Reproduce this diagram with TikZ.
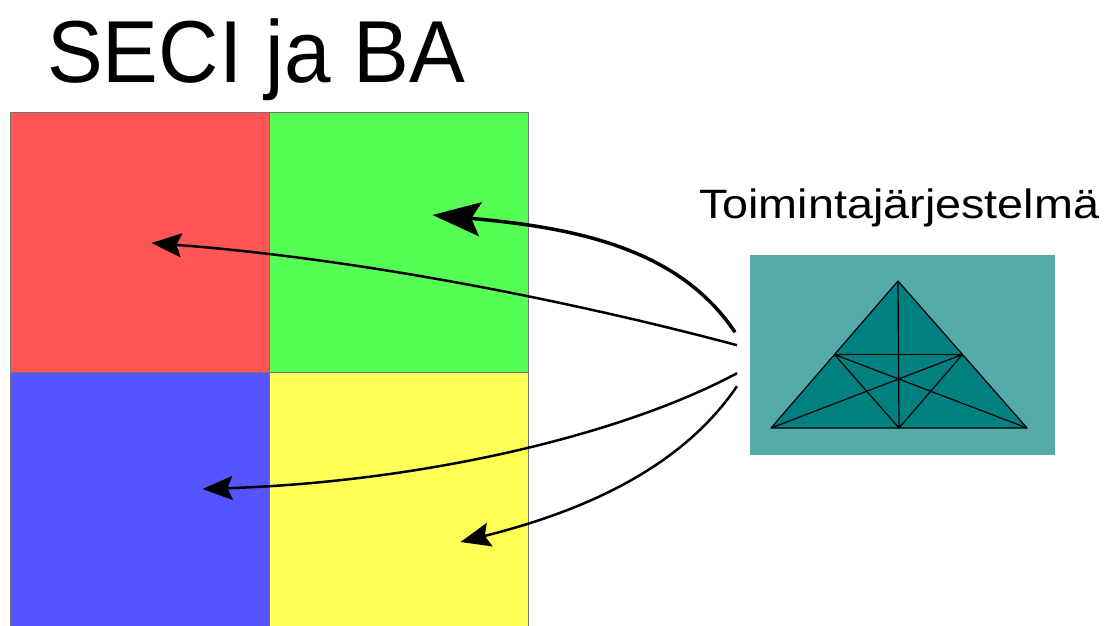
\documentclass[tikz,border=0pt]{standalone}
\usepackage{fontspec}
\setmainfont{Liberation Sans}
\usetikzlibrary{arrows.meta,positioning,calc}
\definecolor{SeciRed}{HTML}{FF5555}
\definecolor{SeciGreen}{HTML}{55FF55}
\definecolor{SeciBlue}{HTML}{5555FF}
\definecolor{SeciYellow}{HTML}{FFFF55}
\definecolor{SysTeal}{HTML}{55AAAA}
\definecolor{SysDark}{HTML}{008080}
\tikzset{
  quad/.style={draw=black!55,line width=1pt,minimum width=259pt,minimum height=260pt,
    inner sep=0pt,outer sep=0pt},
  link/.style={-{Stealth[length=30pt,width=24pt,inset=5pt]},line width=2.5pt},
  biglink/.style={-{Stealth[length=48pt,width=34pt,inset=9pt]},line width=3.5pt},
  edge/.style={line width=1.2pt,line join=round}
}

\begin{document}
\begin{tikzpicture}[x=1pt,y=-1pt]
  \clip (0,0) rectangle (1106,626);
  \fill[white] (0,0) rectangle (1106,626);
  % the four SECI fields
  \node[quad,fill=SeciRed,anchor=north west] (soc) at (10,112) {};
  \node[quad,fill=SeciGreen,right=0pt of soc] (ext) {};
  \node[quad,fill=SeciBlue,below=0pt of soc] (comb) {};
  \node[quad,fill=SeciYellow,right=0pt of comb] (intl) {};
  \node[anchor=base west,inner sep=0pt,font=\fontsize{88}{88}\selectfont] (title) at (47,82) {\scalebox{0.95}[1]{SECI ja BA}};
  % activity system
  \node[fill=SysTeal,minimum width=305pt,minimum height=200pt,inner sep=0pt,anchor=north west] (sys) at (750,255) {};
  \node[anchor=base west,inner sep=0pt,font=\fontsize{41}{41}\selectfont] (syslabel) at (699,218) {\scalebox{1.14}[1]{Toimintajärjestelmä}};
  \coordinate (apex) at (898,281);
  \coordinate (bl) at (771,428);
  \coordinate (br) at (1027,428);
  \coordinate (ml) at ($(apex)!0.5!(bl)$);
  \coordinate (mr) at ($(apex)!0.5!(br)$);
  \coordinate (mb) at ($(bl)!0.5!(br)$);
  \draw[edge,fill=SysDark] (apex) -- (bl) -- (br) -- cycle;
  \draw[edge] (apex) -- (mb) (ml) -- (mr) -- (mb) -- cycle (bl) -- (mr) (br) -- (ml);
  % arrows into the fields
  \coordinate (s1) at ($(sys.west)+(-13,-10)$);
  \coordinate (s2) at ($(sys.west)+(-15,-23)$);
  \coordinate (s3) at ($(sys.west)+(-13,18)$);
  \coordinate (s4) at ($(sys.west)+(-13,31)$);
  \coordinate (tsoc) at ($(soc.center)+(12,1)$);
  \coordinate (tgreen) at ($(ext.center)+(34,-27)$);
  \coordinate (tcomb) at ($(comb.center)+(63,-13)$);
  \coordinate (tintl) at ($(intl.center)+(62,40)$);
  \draw[link] (s1) .. controls (560,298) and (350,258) .. (tsoc);
  \draw[biglink] (s2) .. controls (680,250) and (580,228) .. (tgreen);
  \draw[link] (s3) .. controls (620,436) and (420,482) .. (tcomb);
  \draw[link] (s4) .. controls (680,470) and (580,512) .. (tintl);
\end{tikzpicture}
\end{document}
